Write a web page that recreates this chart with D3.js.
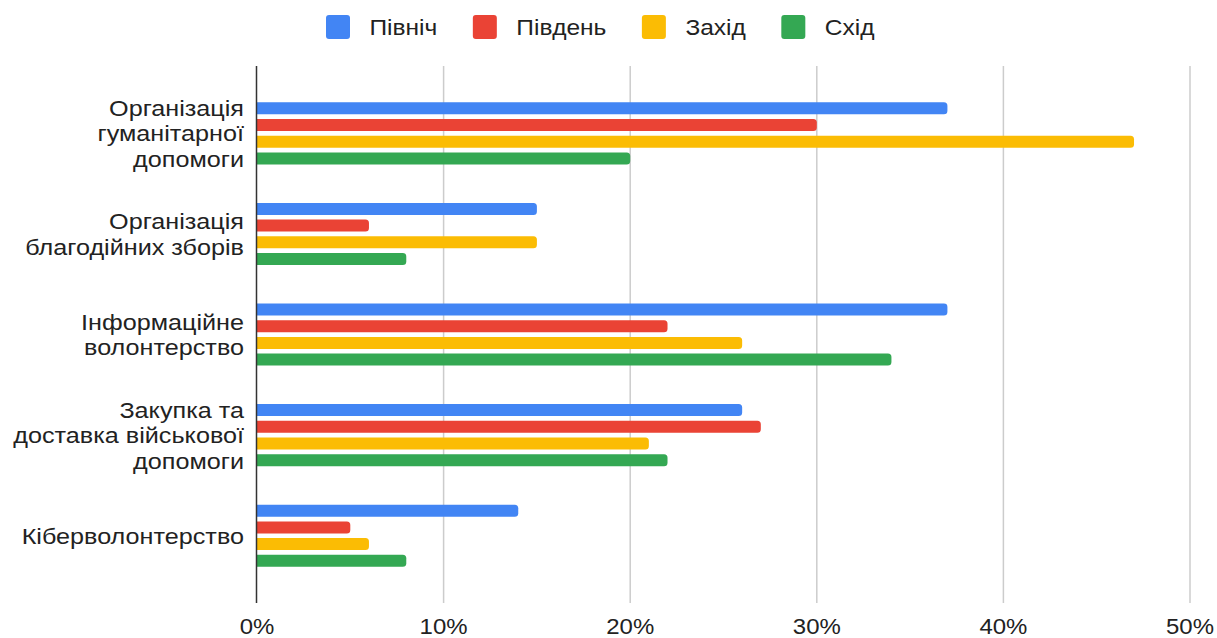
<!DOCTYPE html>
<html>
<head>
<meta charset="utf-8">
<script src="https://cdn.jsdelivr.net/npm/d3@7"></script>
<style>
  body { margin: 0; background: #fff; }
  text { font-family: "Liberation Sans", Arial, sans-serif; }
</style>
</head>
<body>
<div id="chart"></div>
<script>
// Data
const categories = [
    ["Організація", "гуманітарної", "допомоги"],
    ["Організація", "благодійних зборів"],
    ["Інформаційне", "волонтерство"],
    ["Закупка та", "доставка військової", "допомоги"],
    ["Кіберволонтерство"]
];
const series = ["Північ", "Південь", "Захід", "Схід"];
const colors = ["#4285f4", "#ea4335", "#fbbc04", "#34a853"];
const north = [37, 15, 37, 26, 14];
const south = [30, 6, 22, 27, 5];
const west = [47, 15, 26, 21, 6];
const east = [20, 8, 34, 22, 8];
const x_ticks = [0, 10, 20, 30, 40, 50];

const values = [north, south, west, east];
const chart_width = 1217;
const chart_height = 638;
const plot_left = 257;
const plot_right = 1190;
const plot_top = 66;
const plot_bottom = 603;
const stretch = 1.12; // the text in the picture is a bit wide

// Scales
const x_scale = d3.scaleLinear()
    .domain([0, 50])
    .range([plot_left, plot_right]);

const y_group = d3.scaleBand()
    .domain(d3.range(categories.length))
    .range([83, 586]);

const y_bar = d3.scaleBand()
    .domain(series)
    .range([19.3, 19.3 + 62.1])
    .paddingInner(0.28);

// SVG
const svg = d3.select("#chart")
    .append("svg")
    .attr("width", chart_width)
    .attr("height", chart_height);

// Gridlines
svg.append("g")
    .selectAll("line")
    .data(x_ticks.slice(1))
    .join("line")
    .attr("x1", d => x_scale(d))
    .attr("x2", d => x_scale(d))
    .attr("y1", plot_top)
    .attr("y2", plot_bottom)
    .attr("stroke", "#cccccc")
    .attr("stroke-width", 1.5);

// Tick labels
svg.append("g")
    .selectAll("text")
    .data(x_ticks)
    .join("text")
    .attr("transform", d => `translate(${x_scale(d)},634) scale(1.09,1)`)
    .attr("text-anchor", "middle")
    .attr("font-size", 22)
    .attr("fill", "#222")
    .text(d => d + "%");

// Bars, rounded at the right end only
function barPath(x0, x1, y, h, r) {
    r = Math.min(r, (x1 - x0) / 2);
    return `M${x0},${y}H${x1 - r}A${r},${r} 0 0 1 ${x1},${y + r}` +
        `V${y + h - r}A${r},${r} 0 0 1 ${x1 - r},${y + h}H${x0}Z`;
}

const bars = [];
categories.forEach((c, i) => {
    series.forEach((s, j) => {
        bars.push({cat: i, s: s, color: colors[j], v: values[j][i]});
    });
});

svg.append("g")
    .selectAll("path")
    .data(bars)
    .join("path")
    .attr("fill", d => d.color)
    .attr("d", d => barPath(x_scale(0), x_scale(d.v),
        y_group(d.cat) + y_bar(d.s), y_bar.bandwidth(), 3.5));

// Baseline
svg.append("line")
    .attr("x1", plot_left - 0.5)
    .attr("x2", plot_left - 0.5)
    .attr("y1", plot_top)
    .attr("y2", plot_bottom)
    .attr("stroke", "#333")
    .attr("stroke-width", 1.5);

// Category labels
const line_h = 25.5;
svg.append("g")
    .selectAll("text")
    .data(categories)
    .join("text")
    .attr("transform", `translate(244,0) scale(${stretch},1)`)
    .attr("text-anchor", "end")
    .attr("font-size", 22.5)
    .attr("fill", "#222")
    .each(function(d, i) {
        const cy = y_group(i) + y_group.bandwidth() / 2;
        const first = cy - (d.length - 1) * line_h / 2 + 8;
        d3.select(this).selectAll("tspan")
            .data(d)
            .join("tspan")
            .attr("x", 0)
            .attr("y", (t, k) => first + k * line_h)
            .text(t => t);
    });

// Legend
const legend = svg.append("g");
const legend_stretch = 1.09;
let lx = 326;
series.forEach((s, j) => {
    legend.append("rect")
        .attr("x", lx)
        .attr("y", 15)
        .attr("width", 24)
        .attr("height", 24)
        .attr("rx", 3)
        .attr("fill", colors[j]);
    const t = legend.append("text")
        .attr("transform", `translate(${lx + 43.5},35) scale(${legend_stretch},1)`)
        .attr("font-size", 22.5)
        .attr("fill", "#222")
        .text(s);
    lx += 43.5 + t.node().getComputedTextLength() * legend_stretch + 35.5;
});
</script>
</body>
</html>
